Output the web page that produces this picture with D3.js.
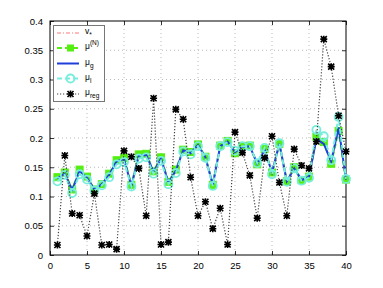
<!DOCTYPE html>
<html>
<head>
<meta charset="utf-8">
<script src="https://cdn.jsdelivr.net/npm/d3@7"></script>
<style>
  body { margin: 0; background: #fff; }
  text { font-family: "Liberation Sans", Helvetica, Arial, sans-serif; }
</style>
</head>
<body>
<script>
// x positions 1..40
let xs = d3.range(1, 41);

let vStar = [0.131,0.139,0.111,0.144,0.132,0.116,0.121,0.137,0.160,0.164,0.118,0.170,0.171,0.142,0.165,0.124,0.144,0.179,0.174,0.188,0.167,0.120,0.186,0.194,0.176,0.185,0.186,0.156,0.180,0.141,0.190,0.126,0.148,0.128,0.134,0.198,0.190,0.160,0.218,0.129];
let muN = [0.133,0.141,0.112,0.146,0.134,0.112,0.121,0.139,0.162,0.166,0.120,0.172,0.173,0.143,0.167,0.125,0.146,0.180,0.176,0.189,0.168,0.120,0.187,0.195,0.174,0.186,0.187,0.155,0.181,0.141,0.190,0.126,0.150,0.128,0.134,0.202,0.193,0.156,0.212,0.129];
let muG = [0.131,0.139,0.111,0.144,0.132,0.112,0.121,0.137,0.160,0.164,0.118,0.170,0.171,0.142,0.165,0.124,0.144,0.179,0.174,0.188,0.167,0.120,0.186,0.194,0.176,0.185,0.186,0.156,0.180,0.141,0.190,0.126,0.148,0.128,0.134,0.198,0.190,0.160,0.218,0.129];
let muL = [0.126,0.137,0.106,0.138,0.129,0.110,0.119,0.133,0.155,0.159,0.117,0.165,0.167,0.139,0.161,0.121,0.140,0.177,0.172,0.186,0.166,0.118,0.186,0.193,0.178,0.186,0.186,0.157,0.183,0.138,0.191,0.125,0.148,0.127,0.132,0.214,0.203,0.162,0.236,0.130];
let muReg = [0.017,0.170,0.071,0.068,0.0325,0.105,0.017,0.018,0.010,0.178,0.168,0.148,0.067,0.268,0.018,0.022,0.249,0.232,0.133,0.067,0.091,0.045,0.080,0.018,0.210,0.175,0.136,0.063,0.166,0.203,0.124,0.067,0.181,0.153,0.148,0.194,0.369,0.322,0.238,0.177];

let xTicks = [0, 5, 10, 15, 20, 25, 30, 35, 40];
let yTicks = [0, 0.05, 0.1, 0.15, 0.2, 0.25, 0.3, 0.35, 0.4];

let pLeft = 50, pRight = 346, pTop = 21, pBottom = 255;

let svg = d3.select("body").append("svg")
    .attr("width", 383)
    .attr("height", 288);

svg.append("rect").attr("width", 383).attr("height", 288).attr("fill", "#fff");

let x = d3.scaleLinear().domain([0, 40]).range([pLeft, pRight]);
let y = d3.scaleLinear().domain([0, 0.4]).range([pBottom, pTop]);

// grid
let grid = svg.append("g");
grid.selectAll(".gx").data(xTicks.slice(1, -1)).enter().append("line")
    .attr("x1", d => x(d)).attr("x2", d => x(d))
    .attr("y1", pTop).attr("y2", pBottom)
    .attr("stroke", "#aaa").attr("stroke-width", 0.8).attr("stroke-dasharray", "1,3");
grid.selectAll(".gy").data(yTicks.slice(1, -1)).enter().append("line")
    .attr("x1", pLeft).attr("x2", pRight)
    .attr("y1", d => y(d)).attr("y2", d => y(d))
    .attr("stroke", "#aaa").attr("stroke-width", 0.8).attr("stroke-dasharray", "1,3");

// axes
svg.append("g")
    .attr("transform", `translate(0, ${pBottom})`)
    .call(d3.axisBottom(x).tickValues(xTicks).tickSize(-4).tickPadding(7).tickFormat(d3.format("d")))
    .call(g => g.select(".domain").remove());
svg.append("g")
    .attr("transform", `translate(0, ${pTop})`)
    .call(d3.axisTop(x).tickValues(xTicks).tickSize(-4).tickFormat(""))
    .call(g => g.select(".domain").remove());
svg.append("g")
    .attr("transform", `translate(${pLeft}, 0)`)
    .call(d3.axisLeft(y).tickValues(yTicks).tickSize(-4).tickPadding(7).tickFormat(d => d === 0 ? "0" : String(+d.toFixed(2))))
    .call(g => g.select(".domain").remove());
svg.append("g")
    .attr("transform", `translate(${pRight}, 0)`)
    .call(d3.axisRight(y).tickValues(yTicks).tickSize(-4).tickFormat(""))
    .call(g => g.select(".domain").remove());

svg.selectAll(".tick text").attr("font-size", 9.5).attr("fill", "#000")
    .attr("font-family", "Liberation Sans, Arial, sans-serif");
svg.selectAll(".tick line").attr("stroke", "#000").attr("stroke-width", 0.8);

svg.append("rect")
    .attr("x", pLeft).attr("y", pTop)
    .attr("width", pRight - pLeft).attr("height", pBottom - pTop)
    .attr("fill", "none").attr("stroke", "#000").attr("stroke-width", 1);

let line = d3.line().x((d, i) => x(xs[i])).y(d => y(d));

let cGreen = "#55ee11", cCyan = "#77eedd", cBlue = "#1f3fdd", cRed = "#ff7777";

// v*
svg.append("path").attr("d", line(vStar)).attr("fill", "none")
    .attr("stroke", cRed).attr("stroke-width", 1).attr("stroke-dasharray", "4,2,1,2");

// mu^(N)
svg.append("path").attr("d", line(muN)).attr("fill", "none")
    .attr("stroke", cGreen).attr("stroke-width", 2).attr("stroke-dasharray", "5,3");
svg.append("g").selectAll("rect").data(muN).enter().append("rect")
    .attr("x", (d, i) => x(xs[i]) - 3.5).attr("y", d => y(d) - 3.5)
    .attr("width", 7).attr("height", 7)
    .attr("fill", cGreen).attr("stroke", cGreen);

// mu_g
svg.append("path").attr("d", line(muG)).attr("fill", "none")
    .attr("stroke", cBlue).attr("stroke-width", 2);

// mu_l
svg.append("path").attr("d", line(muL)).attr("fill", "none")
    .attr("stroke", cCyan).attr("stroke-width", 2).attr("stroke-dasharray", "5,3");
svg.append("g").selectAll("circle").data(muL).enter().append("circle")
    .attr("cx", (d, i) => x(xs[i])).attr("cy", d => y(d)).attr("r", 4)
    .attr("fill", "none").attr("stroke", cCyan).attr("stroke-width", 1.8);

// mu_reg
svg.append("path").attr("d", line(muReg)).attr("fill", "none")
    .attr("stroke", "#444").attr("stroke-width", 1.2).attr("stroke-dasharray", "1.2,1.8");

function star(g, cx, cy) {
    let r = 3;
    g.append("path")
        .attr("d", `M${cx - r},${cy - r}L${cx + r},${cy + r}M${cx - r},${cy + r}L${cx + r},${cy - r}M${cx - r - 0.5},${cy}L${cx + r + 0.5},${cy}M${cx},${cy - r - 0.5}L${cx},${cy + r + 0.5}`)
        .attr("stroke", "#000").attr("stroke-width", 1.6).attr("fill", "none");
}
let regG = svg.append("g");
muReg.forEach((d, i) => star(regG, x(xs[i]), y(d)));

// legend
let lg = svg.append("g");
lg.append("rect").attr("x", 53.5).attr("y", 25.5).attr("width", 51).attr("height", 76)
    .attr("fill", "#fff").attr("stroke", "#777").attr("stroke-width", 1);

let rows = [
    { y: 33, name: "v", sub: "*", sup: null },
    { y: 48, name: "\u03bc", sub: null, sup: "(N)" },
    { y: 63.5, name: "\u03bc", sub: "g", sup: null },
    { y: 78.5, name: "\u03bc", sub: "l", sup: null },
    { y: 94, name: "\u03bc", sub: "reg", sup: null }
];
let lx1 = 57, lx2 = 79, lmx = 70.5;
lg.append("line").attr("x1", lx1).attr("x2", lx2).attr("y1", rows[0].y).attr("y2", rows[0].y)
    .attr("stroke", cRed).attr("stroke-width", 1).attr("stroke-dasharray", "4,2,1,2");
lg.append("line").attr("x1", lx1).attr("x2", lx2).attr("y1", rows[1].y).attr("y2", rows[1].y)
    .attr("stroke", cGreen).attr("stroke-width", 2).attr("stroke-dasharray", "5,3");
lg.append("rect").attr("x", lmx - 3.5).attr("y", rows[1].y - 3.5).attr("width", 7).attr("height", 7)
    .attr("fill", cGreen);
lg.append("line").attr("x1", lx1).attr("x2", lx2).attr("y1", rows[2].y).attr("y2", rows[2].y)
    .attr("stroke", cBlue).attr("stroke-width", 2);
lg.append("line").attr("x1", lx1).attr("x2", lx2).attr("y1", rows[3].y).attr("y2", rows[3].y)
    .attr("stroke", cCyan).attr("stroke-width", 2).attr("stroke-dasharray", "5,3");
lg.append("circle").attr("cx", lmx).attr("cy", rows[3].y).attr("r", 4)
    .attr("fill", "none").attr("stroke", cCyan).attr("stroke-width", 1.8);
lg.append("line").attr("x1", lx1).attr("x2", lx2).attr("y1", rows[4].y).attr("y2", rows[4].y)
    .attr("stroke", "#444").attr("stroke-width", 1.2).attr("stroke-dasharray", "1.2,1.8");
star(lg, lmx, rows[4].y);

rows.forEach(r => {
    let t = lg.append("text").attr("x", 85).attr("y", r.y + 1).attr("font-size", 8.5).attr("fill", "#000");
    t.append("tspan").text(r.name);
    if (r.sub) t.append("tspan").attr("dy", 3).attr("font-size", 6.5).text(r.sub);
    if (r.sup) t.append("tspan").attr("dy", -4).attr("font-size", 6.5).text(r.sup);
});
</script>
</body>
</html>
